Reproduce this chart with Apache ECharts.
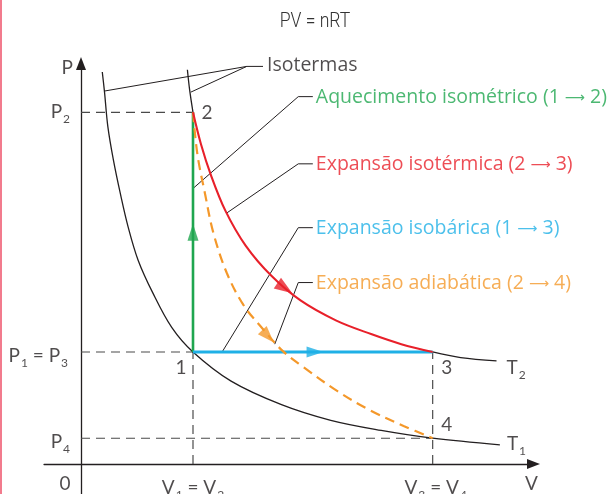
<!DOCTYPE html>
<html><head><meta charset="utf-8">
<script src="https://cdn.jsdelivr.net/npm/echarts@6/dist/echarts.min.js"></script>
<style>html,body{margin:0;padding:0;background:#fff}#c{width:612px;height:494px}</style>
</head><body><div id="c"></div>
<script>
// State values (V in units of V1, P in units of P1)
const V1 = 1.00, V3 = 3.14;
const P1 = 1.00, P2 = 3.14, P4 = 0.23;

// Curves, [V, P]
const isothermT1 = [[0.19,3.50],[0.21,3.32],[0.24,3.01],[0.29,2.71],[0.35,2.42],[0.42,2.12],[0.51,1.82],[0.64,1.53],[0.81,1.22],[1.00,1.00],[1.34,0.74],[1.79,0.53],[2.23,0.39],[2.68,0.30],[3.14,0.23],[3.74,0.17]];
const isothermT2Top = [[0.95,3.52],[0.97,3.34],[1.00,3.14]];
const isothermT2Exp = [[1.00,3.14],[1.07,2.86],[1.16,2.58],[1.29,2.26],[1.47,1.95],[1.70,1.68],[1.96,1.46],[2.28,1.28],[2.59,1.16],[2.86,1.07],[3.14,1.00]];
const isothermT2Tail = [[3.14,1.00],[3.39,0.95],[3.71,0.92]];
const adiabatic = [[1.00,3.14],[1.04,2.76],[1.11,2.40],[1.18,2.07],[1.30,1.71],[1.45,1.42],[1.62,1.21],[1.80,1.01],[1.98,0.87],[2.29,0.65],[2.58,0.48],[2.88,0.34],[3.14,0.23]];
const isometric = [[V1,P1],[V1,P2]];
const isobaric = [[V1,P1],[V3,P1]];

// Direction arrows on the processes: [V, P]
const arrowGreen = [1.00,2.07];
const arrowBlue = [2.09,1.00];
const arrowRed = [1.82,1.57];
const arrowOrange = [1.67,1.14];

// Leader lines for the annotations
const leaderIsotermas = [[[1.625,3.55],[1.48,3.55],[0.21,3.33]],[[1.48,3.55],[0.98,3.32]]];
const leaderAquec = [[2.07,3.28],[1.94,3.28],[1.00,2.46]];
const leaderIsoterm = [[2.07,2.68],[1.94,2.68],[1.30,2.24]];
const leaderIsobar = [[2.07,2.11],[1.94,2.11],[1.26,1.00]];
const leaderAdiab = [[2.07,1.62],[1.94,1.62],[1.73,1.07]];

// Texts
const titleText = 'PV = nRT';
const processNames = ['Aquecimento isométrico (1 {a|⟶} 2)','Expansão isotérmica (2 {a|⟶} 3)','Expansão isobárica (1 {a|⟶} 3)','Expansão adiabática (2 {a|⟶} 4)'];
const isoText = 'Isotermas';

const X_MIN = -0.33, X_MAX = 4.04, Y_MIN = -0.268, Y_MAX = 3.575;
const U = 112, OX = 81, OY = 464;

const FONT = 'Lato, "Open Sans", sans-serif';
const WFONT = '"Open Sans", Lato, sans-serif';
const INK = '#231f20';
const GREEN = '#1fa64f', RED = '#e8202a', BLUE = '#1fb0e6', ORANGE = '#f4982a';

function richFor(color) {
  return {
    p: {fontSize: 19, fontFamily: FONT, color: color},
    s: {fontSize: 12, fontFamily: FONT, color: color, padding: [14, 0, 0, 1]},
    a: {fontSize: 14, fontFamily: '"DejaVu Sans", sans-serif', color: color, padding: [2, 0, 0, 0]}
  };
}

function lineSeries(data, color, width, type, smooth) {
  return {type: 'line', data: data, smooth: smooth ? 0.35 : false, symbol: 'none', silent: true,
    lineStyle: {color: color, width: width, type: type || 'solid'}, z: 3};
}
function arrow(pos, color, rot, size) {
  return {type: 'scatter', data: [pos], symbol: 'triangle', symbolSize: size, symbolRotate: rot,
    itemStyle: {color: color}, silent: true, z: 6};
}
function textAt(pos, text, offset, align, color, font, size) {
  const c = color || INK;
  return {type: 'scatter', data: [pos], symbolSize: 2, itemStyle: {color: 'rgba(0,0,0,0)'}, silent: true, z: 7,
    label: {show: true, position: 'inside', offset: offset, align: align || 'center',
      verticalAlign: 'middle', formatter: text, rich: richFor(c), fontSize: size || 19, fontFamily: font || FONT, color: c}};
}

const G = '#4a4a4a', GD = [9, 6];
const series = [
  // guide lines
  lineSeries([[0,P2],[V1,P2]], G, 1.2, GD),
  lineSeries([[0,P1],[V1,P1]], G, 1.2, GD),
  lineSeries([[0,P4],[V3,P4]], G, 1.2, GD),
  lineSeries([[V1,0],[V1,P1]], G, 1.2, GD),
  lineSeries([[V3,0],[V3,P1]], G, 1.2, GD),
  // isotherms
  lineSeries(isothermT1, INK, 1.3, 'solid', true),
  lineSeries(isothermT2Top, INK, 1.3, 'solid', true),
  lineSeries(isothermT2Tail, INK, 1.3, 'solid', true),
  // leaders
  lineSeries(leaderIsotermas[0], INK, 1, 'solid'),
  lineSeries(leaderIsotermas[1], INK, 1, 'solid'),
  lineSeries(leaderAquec, INK, 1, 'solid'),
  lineSeries(leaderIsoterm, INK, 1, 'solid'),
  lineSeries(leaderIsobar, INK, 1, 'solid'),
  lineSeries(leaderAdiab, INK, 1, 'solid'),
  // processes
  lineSeries(isometric, GREEN, 2.6, 'solid'),
  lineSeries(isobaric, BLUE, 2.8, 'solid'),
  lineSeries(adiabatic, ORANGE, 2.2, [10,6], true),
  lineSeries(isothermT2Exp, RED, 2.1, 'solid', true),
  arrow(arrowGreen, GREEN, 0, [11, 17]),
  arrow(arrowBlue, BLUE, -90, [11, 17]),
  arrow(arrowRed, RED, -124, [13, 18]),
  arrow(arrowOrange, ORANGE, -137, [12, 17]),
  // axis & point texts
  textAt([0, Y_MAX], 'P', [-8, 4], 'right'),
  textAt([0, 0], '0', [-16, 20]),
  textAt([X_MAX, 0], 'V', [-2, 20]),
  textAt([V1, 0], '{p|V}{s|1}{p| = V}{s|2}', [0, 24]),
  textAt([V3, 0], '{p|V}{s|3}{p| = V}{s|4}', [3, 24]),
  textAt([0, P2], '{p|P}{s|2}', [-11, 0], 'right'),
  textAt([0, P1], '{p|P}{s|1}{p| = P}{s|3}', [-13, 4], 'right'),
  textAt([0, P4], '{p|P}{s|4}', [-11, 4], 'right'),
  textAt([V1, P1], '1', [-12, 16]),
  textAt([V1, P2], '2', [14, 1]),
  textAt([V3, P1], '3', [14, 16]),
  textAt([V3, P4], '4', [14, -13]),
  textAt(isothermT2Tail[2], '{p|T}{s|2}', [10, 7], 'left'),
  textAt(isothermT1[isothermT1.length-1], '{p|T}{s|1}', [7, -1], 'left'),
  textAt(leaderIsotermas[0][0], isoText, [4, -1], 'left', INK, WFONT, 19.5),
  textAt(leaderAquec[0], processNames[0], [3, 1], 'left', GREEN, WFONT, 19.5),
  textAt(leaderIsoterm[0], processNames[1], [3, 1], 'left', RED, WFONT, 19.5),
  textAt(leaderIsobar[0], processNames[2], [3, 1], 'left', BLUE, WFONT, 19.5),
  textAt(leaderAdiab[0], processNames[3], [3, 1], 'left', ORANGE, WFONT, 19.5)
];

const chart = echarts.init(document.getElementById('c'), null, {renderer: 'canvas'});
const axisCommon = {
  type: 'value', axisTick: {show: false}, axisLabel: {show: false}, splitLine: {show: false},
  axisLine: {show: true, onZero: true, symbol: ['none', 'triangle'], symbolSize: [10, 13],
    lineStyle: {color: INK, width: 1.3}}
};
chart.setOption({
  animation: false,
  backgroundColor: '#fff',
  grid: {left: OX + X_MIN * U, right: 612 - (OX + X_MAX * U), top: OY - Y_MAX * U, bottom: 494 - (OY - Y_MIN * U)},
  xAxis: Object.assign({}, axisCommon, {min: X_MIN, max: X_MAX}),
  yAxis: Object.assign({}, axisCommon, {min: Y_MIN, max: Y_MAX}),
  graphic: [
    {type: 'rect', shape: {x: 0, y: 0, width: 2, height: 494}, style: {fill: '#f27b8d'}, silent: true},
    {type: 'text', x: 315, y: 22, scaleX: 0.88, silent: true,
      style: {text: titleText, fontSize: 20, fontFamily: 'Roboto, sans-serif', fontWeight: 300, fill: '#333', align: 'center', verticalAlign: 'middle'}}
  ],
  series: series
});
</script></body></html>
